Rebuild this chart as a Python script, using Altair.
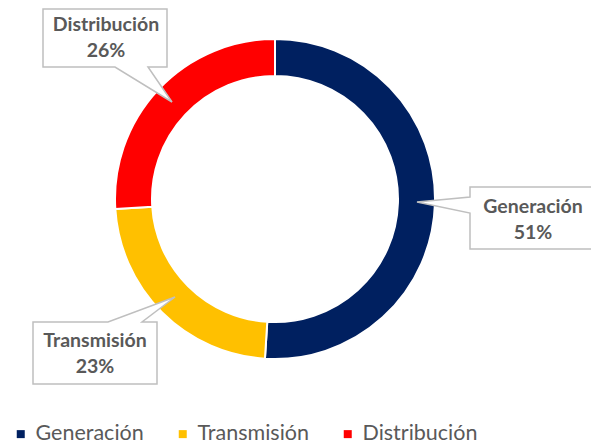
import altair as alt
import pandas as pd

# ---- data ----
categories = ["Generación", "Transmisión", "Distribución"]
values = [51, 23, 26]
colors = ["#002060", "#FFC000", "#FF0000"]

df = pd.DataFrame({"cat": categories, "val": values, "order": list(range(len(categories)))})

M = 8  # page margin, plot coords = page coords - M
W, H = 583, 437
CX, CY = 275 - M, 199 - M

TEXT_GRAY = "#595959"
BOX_GRAY = "#BFBFBF"
FONT = "Lato"

# callout layout (box centre in page px, outline path relative to centre, first text line centre)
callouts = {
    "Distribución": ((105, 38),
                     "M-62,-29 L62,-29 L62,29 L43,29 L67,64 L10,29 L-62,29 Z",
                     (106, 25)),
    "Generación": ((531, 218),
                   "M-61,-31 L61,-31 L61,31 L-61,31 L-61,-5 L-114,-16 L-61,-21 Z",
                   (533, 207)),
    "Transmisión": ((95, 353),
                    "M-62,-31 L13,-31 L80,-56 L47,-31 L62,-31 L62,31 L-62,31 Z",
                    (95, 341)),
}

base = alt.Chart(df).transform_joinaggregate(total="sum(val)").transform_calculate(
    pct="round(datum.val / datum.total * 100)",
    label="datum.cat + '\\n' + datum.pct + '%'",
)

donut = base.mark_arc(outerRadius=160, innerRadius=123, stroke="white", strokeWidth=2).encode(
    theta=alt.Theta("val:Q", stack=True),
    order=alt.Order("order:Q"),
    color=alt.Color(
        "cat:N",
        sort=categories,
        scale=alt.Scale(domain=categories, range=colors),
        legend=alt.Legend(
            title=None,
            orient="none",
            direction="horizontal",
            columns=3,
            padding=0,
            legendX=10 - M,
            legendY=423 - M,
            symbolType="square",
            symbolSize=64,
            symbolOffset=0,
            symbolStrokeWidth=0,
            labelFont=FONT,
            labelFontSize=21.5,
            labelColor=TEXT_GRAY,
            labelOffset=4,
            columnPadding=28,
        ),
    ),
    x=alt.value(CX),
    y=alt.value(CY),
)

layers = [donut]
for cat in categories:
    (bx, by), path, (tx, ty) = callouts[cat]
    box = base.transform_filter(alt.datum.cat == cat).mark_point(
        shape=path, size=4, filled=True, fill="white", stroke=BOX_GRAY, strokeWidth=1.5, opacity=1
    ).encode(x=alt.value(bx - M), y=alt.value(by - M))
    txt = base.transform_filter(alt.datum.cat == cat).mark_text(
        font=FONT, fontSize=19.5, fontWeight="bold", color=TEXT_GRAY,
        lineBreak="\n", lineHeight=26, align="center", baseline="middle",
    ).encode(text="label:N", x=alt.value(tx - M), y=alt.value(ty - M))
    layers += [box, txt]

chart = alt.layer(*layers).properties(
    width=W, height=H, padding=0, autosize=alt.AutoSizeParams(type="none"), background="white"
).configure_view(stroke=None)

chart.save("out.html", embed_options={"renderer": "svg", "actions": False})
